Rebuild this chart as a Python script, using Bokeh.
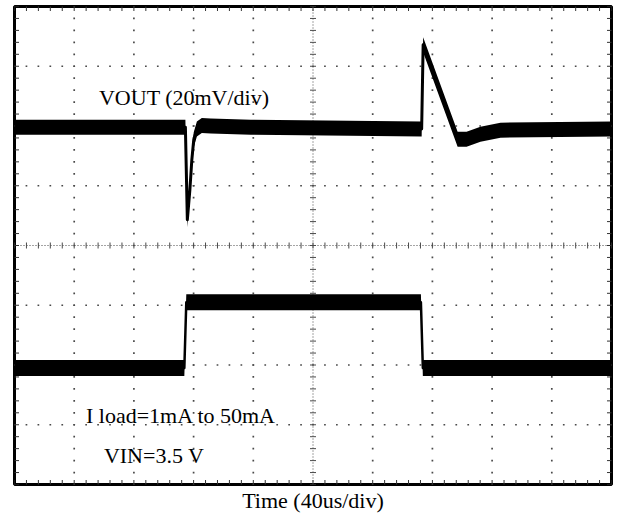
from bokeh.plotting import figure
from bokeh.models import Label, Title
from bokeh.embed import file_html
from bokeh.resources import INLINE

# ---- data (time in us, 40 us/div ; vertical position in screen divisions) ----
US_PER_DIV = 40
N_XDIV = 10
N_YDIV = 8

vout_t = [0, 114.5, 115.8, 117.5, 118.8, 120.1, 122.2, 125.5, 131.5, 158.3,
          272.8, 273.8, 296.9, 302.9, 312.2, 325.6, 400]
vout_div = [1.98, 1.98, 0.43, 0.93, 1.43, 1.77, 1.95, 2.01, 2.0, 1.98,
            1.95, 3.36, 1.78, 1.78, 1.86, 1.93, 1.95]

iload_t = [0, 113.8, 115.1, 272.3, 273.6, 400]
iload_div = [-2.05, -2.05, -0.95, -0.95, -2.05, -2.05]

vout_label = "VOUT (20mV/div)"
iload_label = "I load=1mA to 50mA"
vin_label = "VIN=3.5 V"
x_label = "Time (40us/div)"

# ---- layout ----
FRAME_W, FRAME_H = 597, 478
BL, BR, BT, BB = 14, 5, 6, 30
px_per_div_y = FRAME_H / N_YDIV
t_max = US_PER_DIV * N_XDIV
y_half = N_YDIV / 2

p = figure(width=FRAME_W + BL + BR, height=FRAME_H + BT + BB,
           x_range=(0, t_max), y_range=(-y_half, y_half),
           x_axis_location=None, y_axis_location=None,
           output_backend="svg", toolbar_location=None,
           min_border_left=BL, min_border_right=BR,
           min_border_top=BT, min_border_bottom=BB)
p.grid.visible = False
p.outline_line_color = "black"
p.outline_line_width = 3
p.background_fill_color = "white"
p.border_fill_color = "white"

GRID_COL = "#4a4a4a"
minor = 5

# graticule dots on every division line (dots every 1/5 div)
gx, gy = [], []
for k in range(1, N_XDIV):
    if k == N_XDIV // 2:
        continue
    for j in range(N_YDIV * minor + 1):
        gx.append(k * US_PER_DIV)
        gy.append(-y_half + j / minor)
for k in range(1, N_YDIV):
    if k == N_YDIV // 2:
        continue
    for j in range(N_XDIV * minor + 1):
        gx.append(j * US_PER_DIV / minor)
        gy.append(-y_half + k)
p.scatter(gx, gy, marker="square", size=1.7, fill_color=GRID_COL, line_color=None)

# center cross: fine dotted lines with minor ticks
xc = t_max / 2
p.line([xc, xc], [-y_half, y_half], line_color=GRID_COL, line_width=1, line_dash="1 2")
p.line([0, t_max], [0, 0], line_color=GRID_COL, line_width=1, line_dash="1 2")
cy = [-y_half + j / minor for j in range(N_YDIV * minor + 1)]
cx = [j * US_PER_DIV / minor for j in range(N_XDIV * minor + 1)]
p.scatter([xc] * len(cy), cy, marker="dash", size=6, line_color=GRID_COL, line_width=1)
p.scatter(cx, [0] * len(cx), marker="dash", size=6, angle=1.5708,
          line_color=GRID_COL, line_width=1)

# frame edge ticks (inside)
p.scatter([0] * len(cy), cy, marker="dash", size=9, line_color="#333", line_width=1)
p.scatter([t_max] * len(cy), cy, marker="dash", size=9, line_color="#333", line_width=1)
p.scatter(cx, [-y_half] * len(cx), marker="dash", size=9, angle=1.5708,
          line_color="#333", line_width=1)
p.scatter(cx, [y_half] * len(cx), marker="dash", size=9, angle=1.5708,
          line_color="#333", line_width=1)

# traces: noise band + centre line
def trace(t, d, half_px, lw):
    h = half_px / px_per_div_y
    p.varea(x=t, y1=[v - h for v in d], y2=[v + h for v in d], fill_color="black")
    p.line(t, d, line_color="black", line_width=lw, line_join="round")

trace(vout_t, vout_div, 7.5, 3)
trace(iload_t, iload_div, 8, 2.5)

FONT = "Liberation Serif"
FS = "22px"
for txt, x, y in [(vout_label, 56.6, 2.47), (iload_label, 47.9, -2.84), (vin_label, 59.9, -3.51)]:
    p.add_layout(Label(x=x, y=y, text=txt, text_font=FONT, text_font_size=FS,
                       text_color="black", text_baseline="alphabetic"))

p.add_layout(Title(text=x_label, align="center", text_font=FONT, text_font_size=FS,
                   text_font_style="normal", text_color="black", standoff=2), "below")

open("out.html", "w").write(file_html(p, INLINE))
